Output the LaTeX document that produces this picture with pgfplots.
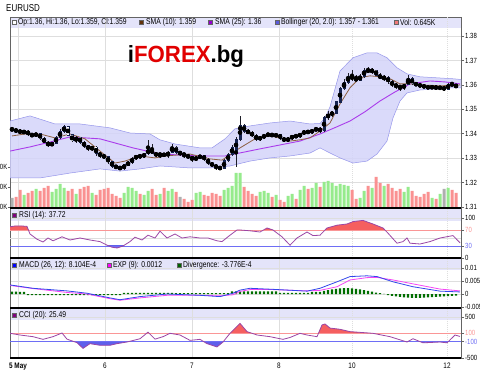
\documentclass[border=0pt]{standalone}
\usepackage{pgfplots}
\pgfplotsset{compat=1.18}
\usepackage{pgfplotstable}
\usepackage{fontspec}
\setmainfont{Liberation Sans}[FakeStretch=0.8]
\newfontfamily\logofont{Liberation Sans}[FakeStretch=0.95]
\definecolor{bandfill}{RGB}{212,212,250}
\definecolor{bandline}{RGB}{150,150,235}
\definecolor{smaten}{RGB}{140,95,65}
\definecolor{smatwf}{RGB}{170,60,235}
\definecolor{candleedge}{RGB}{22,35,80}
\definecolor{wick}{RGB}{30,30,40}
\definecolor{vgreen}{RGB}{150,235,140}
\definecolor{vred}{RGB}{250,145,145}
\definecolor{vgrey}{RGB}{175,175,175}
\definecolor{osc}{RGB}{155,70,165}
\definecolor{ofillr}{RGB}{245,95,95}
\definecolor{ofillb}{RGB}{95,95,235}
\definecolor{lvlr}{RGB}{250,150,150}
\definecolor{lvlb}{RGB}{110,110,245}
\definecolor{macdb}{RGB}{50,70,235}
\definecolor{macds}{RGB}{245,70,245}
\definecolor{divg}{RGB}{0,110,0}
\definecolor{strip}{RGB}{228,228,250}
\definecolor{gridc}{RGB}{222,222,222}
\definecolor{framec}{RGB}{100,100,100}
\definecolor{logored}{RGB}{225,0,0}

\pgfplotstableread{
x o h l c
12 1.3420 1.3428 1.3410 1.3415
16 1.3415 1.3420 1.3405 1.3412
20 1.3412 1.3418 1.3400 1.3405
24 1.3405 1.3415 1.3398 1.3410
28 1.3410 1.3414 1.3392 1.3398
32 1.3398 1.3402 1.3385 1.3392
36 1.3392 1.3405 1.3388 1.3400
40 1.3400 1.3404 1.3375 1.3380
44 1.3380 1.3385 1.3360 1.3365
48 1.3365 1.3370 1.3345 1.3352
52 1.3352 1.3368 1.3348 1.3362
56 1.3362 1.3390 1.3358 1.3385
60 1.3385 1.3418 1.3380 1.3410
64 1.3410 1.3435 1.3405 1.3428
68 1.3428 1.3432 1.3390 1.3395
72 1.3395 1.3398 1.3365 1.3372
76 1.3372 1.3390 1.3362 1.3385
80 1.3385 1.3388 1.3360 1.3365
84 1.3365 1.3370 1.3342 1.3350
88 1.3350 1.3355 1.3330 1.3338
92 1.3338 1.3350 1.3330 1.3345
96 1.3345 1.3348 1.3310 1.3320
100 1.3320 1.3325 1.3302 1.3310
104 1.3310 1.3318 1.3295 1.3305
108 1.3305 1.3308 1.3275 1.3285
112 1.3285 1.3290 1.3260 1.3268
116 1.3268 1.3272 1.3255 1.3262
120 1.3262 1.3268 1.3250 1.3258
124 1.3258 1.3278 1.3252 1.3272
128 1.3272 1.3288 1.3268 1.3282
132 1.3282 1.3305 1.3278 1.3298
136 1.3298 1.3315 1.3292 1.3310
140 1.3310 1.3318 1.3298 1.3305
144 1.3305 1.3322 1.3300 1.3318
148 1.3318 1.3375 1.3312 1.3335
152 1.3335 1.3358 1.3315 1.3320
156 1.3320 1.3325 1.3305 1.3312
160 1.3312 1.3322 1.3300 1.3318
164 1.3318 1.3322 1.3305 1.3310
168 1.3310 1.3330 1.3300 1.3325
172 1.3325 1.3360 1.3320 1.3345
176 1.3345 1.3348 1.3318 1.3325
180 1.3325 1.3330 1.3310 1.3318
184 1.3318 1.3322 1.3302 1.3312
188 1.3312 1.3318 1.3295 1.3305
192 1.3305 1.3310 1.3285 1.3295
196 1.3295 1.3308 1.3288 1.3302
200 1.3302 1.3315 1.3295 1.3310
204 1.3310 1.3314 1.3288 1.3295
208 1.3295 1.3300 1.3272 1.3280
212 1.3280 1.3285 1.3262 1.3270
216 1.3270 1.3275 1.3252 1.3262
220 1.3262 1.3268 1.3250 1.3258
224 1.3258 1.3295 1.3255 1.3290
228 1.3290 1.3320 1.3285 1.3315
232 1.3315 1.3352 1.3310 1.3345
236 1.3330 1.3385 1.3262 1.3378
240 1.3378 1.3473 1.3372 1.3432
244 1.3432 1.3440 1.3405 1.3410
248 1.3410 1.3418 1.3398 1.3405
252 1.3405 1.3412 1.3385 1.3392
256 1.3392 1.3398 1.3370 1.3378
260 1.3378 1.3392 1.3372 1.3385
264 1.3385 1.3400 1.3380 1.3393
268 1.3393 1.3405 1.3388 1.3398
272 1.3398 1.3402 1.3386 1.3392
276 1.3392 1.3402 1.3385 1.3396
280 1.3396 1.3400 1.3376 1.3382
284 1.3382 1.3386 1.3365 1.3372
288 1.3372 1.3385 1.3368 1.3380
292 1.3380 1.3396 1.3375 1.3392
296 1.3392 1.3398 1.3382 1.3388
300 1.3388 1.3405 1.3384 1.3400
304 1.3400 1.3415 1.3395 1.3410
308 1.3410 1.3416 1.3398 1.3405
312 1.3405 1.3420 1.3400 1.3415
316 1.3415 1.3428 1.3410 1.3420
320 1.3420 1.3426 1.3405 1.3412
324 1.3412 1.3472 1.3408 1.3465
328 1.3465 1.3492 1.3455 1.3480
332 1.3480 1.3495 1.3470 1.3485
336 1.3485 1.3535 1.3480 1.3530
340 1.3530 1.3592 1.3525 1.3585
344 1.3585 1.3625 1.3578 1.3610
348 1.3610 1.3650 1.3605 1.3635
352 1.3635 1.3660 1.3615 1.3625
356 1.3625 1.3642 1.3615 1.3620
360 1.3620 1.3645 1.3615 1.3635
364 1.3635 1.3668 1.3630 1.3660
368 1.3660 1.3672 1.3650 1.3655
372 1.3655 1.3670 1.3645 1.3660
376 1.3660 1.3662 1.3635 1.3640
380 1.3640 1.3648 1.3622 1.3628
384 1.3628 1.3640 1.3615 1.3630
388 1.3630 1.3636 1.3605 1.3612
392 1.3612 1.3618 1.3592 1.3600
396 1.3600 1.3606 1.3585 1.3595
400 1.3595 1.3600 1.3575 1.3588
404 1.3588 1.3605 1.3580 1.3600
408 1.3600 1.3640 1.3598 1.3625
412 1.3625 1.3632 1.3600 1.3605
416 1.3605 1.3612 1.3595 1.3600
420 1.3600 1.3606 1.3590 1.3596
424 1.3596 1.3602 1.3586 1.3592
428 1.3592 1.3598 1.3582 1.3588
432 1.3588 1.3598 1.3584 1.3592
436 1.3592 1.3598 1.3580 1.3586
440 1.3586 1.3596 1.3580 1.3590
444 1.3590 1.3595 1.3575 1.3582
448 1.3582 1.3608 1.3578 1.3603
452 1.3603 1.3612 1.3596 1.3600
456 1.3600 1.3605 1.3588 1.3590
}\candles

\pgfplotstableread{
x v
10 1.3329
30 1.3346
50 1.3366
70 1.3387
100 1.3379
133 1.3342
160 1.3317
200 1.3309
225 1.3309
260 1.3338
300 1.3370
320 1.3399
335 1.3425
350 1.3452
365 1.3490
380 1.3534
395 1.3571
410 1.3604
430 1.3616
445 1.3612
460 1.3604
}\smatwentyfive

\pgfplotstableread{
x v
12 1.3391
25 1.3399
40 1.3399
55 1.3383
70 1.3399
85 1.3379
100 1.3329
115 1.3280
125 1.3288
140 1.3309
155 1.3301
165 1.3309
190 1.3317
210 1.3297
222 1.3292
240 1.3342
255 1.3379
270 1.3391
280 1.3383
290 1.3370
300 1.3375
310 1.3383
320 1.3411
330 1.3444
340 1.3522
350 1.3588
360 1.3629
370 1.3637
380 1.3633
390 1.3625
400 1.3604
410 1.3604
420 1.3600
440 1.3596
460 1.3600
}\smaten

\pgfplotstableread{
x v
10 78
15 80
22 80
27 79
30 60
37 47
43 40
48 50
53 43
62 53
70 45
80 50
90 45
100 41
107 32
112 27
117 25
123 30
130 41
135 52
142 45
148 57
155 50
160 67
167 50
175 60
182 50
190 53
200 50
208 50
217 43
222 41
230 57
237 70
240 70
250 68
260 65
267 75
273 70
282 53
290 32
297 50
307 65
313 56
320 57
327 75
337 82
347 85
353 91
363 94
373 85
383 75
388 62
397 37
403 41
407 50
410 37
420 35
430 41
440 50
453 56
460 38
}\rsi

\pgfplotstableread{
x m s
10 0.0035 0.0033
33 0.0022 0.0021
67 0.0012 0.0006
87 0.0003 0.0000
110 -0.0015 -0.0018
120 -0.0022 -0.0024
140 -0.0010 -0.0015
167 0.0000 -0.0005
200 -0.0005 -0.0005
220 -0.0010 -0.0007
233 0.0003 -0.0003
240 0.0015 0.0010
250 0.0022 0.0017
273 0.0018 0.0017
307 0.0011 0.0012
320 0.0022 0.0014
337 0.0047 0.0028
350 0.0067 0.0054
367 0.0070 0.0063
377 0.0067 0.0064
393 0.0047 0.0054
413 0.0028 0.0039
440 0.0011 0.0019
460 0.0008 0.0012
}\macd

\pgfplotstableread{
x v
10 102
20 61
33 20
43 -45
53 20
62 110
67 -40
77 -126
83 -265
90 -150
100 -190
110 -190
117 -150
127 -110
140 -30
148 130
155 -40
163 20
170 102
180 61
190 -70
200 -45
207 -150
217 -230
223 -110
230 102
240 345
247 143
257 61
270 20
283 -45
290 0
300 102
307 61
317 20
322 305
325 330
330 230
340 200
350 143
373 102
390 20
407 -110
413 -30
423 -130
440 -110
447 -130
455 61
460 25
}\cci

\pgfplotsset{
  panel/.style={
    scale only axis, width=451bp, xmin=10, xmax=461,
    axis line style={framec, line width=0.6bp},
    tick align=outside, major tick length=3bp,
    ytick pos=right, yticklabel pos=right,
    ytick style={framec, line width=0.5bp},
    xtick style={draw=none},
    xtick={18,105,192,279}, extra x ticks={352,447},
    xmajorgrids, ymajorgrids,
    major grid style={gridc, line width=0.5bp},
    extra x tick style={major grid style={gridc, line width=0.5bp, dash pattern=on 1bp off 1bp}, xtick style={draw=none}},
    xticklabels={}, extra x tick labels={},
    scaled y ticks=false, scaled x ticks=false,
    ticklabel style={font=\fontsize{7.5}{8}\selectfont, text=black},
    yticklabel style={anchor=west, inner sep=1bp},
    /pgf/number format/assume math mode=true,
  }
}

\begin{document}
\begin{tikzpicture}
\path[use as bounding box, fill=white] (0bp,0bp) rectangle (480bp,370bp);
% strips
\fill[strip] (10bp,342bp) rectangle (461bp,353bp);
\fill[strip] (10bp,149bp) rectangle (461bp,162bp);
\fill[strip] (10bp,100bp) rectangle (461bp,112bp);
\fill[strip] (10bp,50bp) rectangle (461bp,62bp);

% main panel
\begin{axis}[panel, anchor=south west, at={(10bp,162bp)}, height=191bp, ymin=1.3096, ymax=1.38778,
  ytick={1.31,1.32,1.33,1.34,1.35,1.36,1.37,1.38},
  yticklabels={1.31,1.32,1.33,1.34,1.35,1.36,1.37,1.38}]
\addplot[fill=bandfill, fill opacity=0.85, draw=bandline, line width=0.5bp] coordinates {
(10,1.3452)(30,1.3473)(55,1.3440)(80,1.3440)(110,1.3424)(130,1.3403)(150,1.3399)(160,1.3375)(175,1.3358)(200,1.3342)(212,1.3342)(225,1.3379)(235,1.3420)(250,1.3432)(270,1.3444)(290,1.3452)(310,1.3440)(320,1.3442)(325,1.3465)(330,1.3510)(340,1.3657)(353,1.3711)(367,1.3731)(377,1.3731)(387,1.3711)(397,1.3670)(407,1.3645)(420,1.3633)(453,1.3625)(461,1.3622)
(461,1.3588)(453,1.3588)(420,1.3579)(407,1.3567)(400,1.3534)(393,1.3465)(387,1.3370)(377,1.3317)(367,1.3288)(353,1.3280)(340,1.3301)(330,1.3321)(320,1.3342)(310,1.3321)(290,1.3309)(270,1.3301)(250,1.3288)(230,1.3268)(210,1.3260)(190,1.3260)(160,1.3268)(140,1.3256)(120,1.3247)(100,1.3256)(70,1.3239)(40,1.3219)(10,1.3219)
} -- cycle;
\addplot[smatwf, line width=0.9bp] table[x=x,y=v]{\smatwentyfive};
\addplot[smaten, line width=0.8bp] table[x=x,y=v]{\smaten};
\addplot[only marks, mark=none,
  error bars/.cd, y dir=both, y explicit, error mark=none,
  error bar style={draw=wick, line width=0.6bp}]
  table[x=x, y expr={(\thisrow{h}+\thisrow{l})/2}, y error expr={(\thisrow{h}-\thisrow{l})/2}]{\candles};
\addplot[only marks, mark=none,
  error bars/.cd, y dir=both, y explicit, error mark=none,
  error bar style={draw=candleedge, line width=3bp}]
  table[x=x, y expr={(\thisrow{o}+\thisrow{c})/2}, y error expr={abs(\thisrow{c}-\thisrow{o})/2+0.00022}]{\candles};
\addplot[only marks, mark=none,
  error bars/.cd, y dir=both, y explicit, error mark=none,
  error bar style={draw=white, line width=1.8bp}]
  table[x=x, y expr={(\thisrow{o}+\thisrow{c})/2}, y error expr={max(\thisrow{o}-\thisrow{c},0)/2}]{\candles};
\end{axis}

% volume overlay
\begin{axis}[scale only axis, width=451bp, height=191bp, anchor=south west, at={(10bp,162bp)},
  xmin=10, xmax=461, ymin=0, ymax=191, axis x line=none, axis y line*=left,
  axis line style={draw=none}, tick align=outside, major tick length=2bp,
  ytick={1,21,41}, yticklabels={0K,0K,0K},
  ytick style={framec, line width=0.5bp},
  yticklabel style={font=\fontsize{7.5}{8}\selectfont, anchor=east, inner sep=0.5bp}]
\addplot[ybar, bar width=3, bar shift=0pt, fill=vgreen, draw=none] coordinates {
(24,13)(36,19)(52,16)(56,19)(60,24)(64,20)(76,14)(92,15)(124,15)(128,21)(132,20)(136,17)(144,13)(148,17)(160,14)(168,17)(172,19)(196,15)(200,16)(224,18)(228,20)(232,22)(236,35)(240,35)(260,16)(264,17)(268,15)(276,13)(288,12)(292,14)(300,18)(304,22)(312,20)(316,25)(324,26)(328,27)(332,25)(336,22)(340,24)(344,23)(348,22)(360,10)(364,17)(372,20)(384,22)(404,16)(408,21)(432,10)(440,14)(448,20)};
\addplot[ybar, bar width=3, bar shift=0pt, fill=vred, draw=none] coordinates {
(16,11)(20,18)(28,15)(32,17)(40,17)(44,20)(48,22)(68,17)(72,19)(80,19)(84,21)(88,22)(96,13)(100,18)(104,19)(108,20)(112,14)(116,12)(120,10)(140,14)(152,19)(156,13)(164,20)(176,16)(184,9)(188,6)(192,8)(204,13)(208,12)(212,15)(216,14)(220,12)(244,21)(248,17)(252,14)(256,12)(272,11)(280,8)(284,6)(296,9)(308,19)(320,21)(352,18)(356,9)(368,22)(376,31)(380,25)(388,24)(392,20)(396,17)(400,19)(412,17)(416,12)(420,11)(424,14)(428,16)(436,9)(452,18)(456,15)};
\addplot[ybar, bar width=3, bar shift=0pt, fill=vgrey, draw=none] coordinates {
(12,10)(180,11)(444,19)};
\end{axis}

% RSI
\begin{axis}[panel, anchor=south west, at={(10bp,112bp)}, height=50bp, ymin=0, ymax=125,
  ytick={0,30,70,100}, yticklabels={0,\textcolor{lvlb}{30},\textcolor{lvlr}{70},100}]
\addplot[gridc, line width=0.5bp] coordinates {(10,50) (461,50)};
\begin{scope}
\clip (axis cs:10,70) rectangle (axis cs:461,125);
\addplot[fill=ofillr, draw=none] table[x=x,y=v]{\rsi} -- (axis cs:460,0) -- (axis cs:10,0) -- cycle;
\end{scope}
\begin{scope}
\clip (axis cs:10,0) rectangle (axis cs:461,30);
\addplot[fill=ofillb, draw=none] table[x=x,y=v]{\rsi} -- (axis cs:460,125) -- (axis cs:10,125) -- cycle;
\end{scope}
\addplot[lvlr, line width=0.6bp] coordinates {(10,70) (461,70)};
\addplot[lvlb, line width=0.6bp] coordinates {(10,30) (461,30)};
\addplot[osc, line width=0.8bp] table[x=x,y=v]{\rsi};
\end{axis}

% MACD
\begin{axis}[panel, anchor=south west, at={(10bp,62bp)}, height=50bp, ymin=-0.00538, ymax=0.01385,
  ytick={-0.005,0,0.005,0.01}, yticklabels={-0.005,0,0.005,0.01}]
\addplot[ybar, bar width=2.4, bar shift=0pt, fill=divg, draw=none] coordinates {
(12,0.0009)(16,0.0009)(20,0.0008)(24,0.0008)
(28,-0.0004)(32,-0.0004)(36,-0.0004)(40,-0.0004)(44,-0.0004)(48,-0.0004)(52,-0.0004)(56,-0.0004)(60,-0.0004)(64,-0.0004)(68,-0.0004)(72,-0.0004)(76,-0.0004)(80,-0.0004)(84,-0.0004)(88,-0.0004)(92,-0.0004)(96,-0.0004)(100,-0.0004)(104,-0.0004)(108,-0.0004)(112,-0.0004)(116,-0.0004)(120,-0.0004)
(124,0.0004)(128,0.0004)(132,0.0004)(136,0.0004)(140,0.0004)(144,0.0004)(148,0.0004)(152,0.0004)(156,0.0004)(160,0.0004)(164,0.0004)(168,0.0004)(172,0.0004)
(176,0.0003)(180,0.0003)(184,0.0003)(188,0.0003)(192,0.0003)(196,0.0003)(200,0.0003)(204,0.0003)(208,0.0003)(212,0.0003)(216,0.0003)(220,0.0003)(224,0.0003)(228,0.0003)
(232,0.0010)(236,0.0010)(240,0.0010)(244,0.0010)(248,0.0010)(252,0.0010)(256,0.0010)(260,0.0010)(264,0.0010)(268,0.0010)(272,0.0010)(276,0.0010)
(280,0.0004)(284,0.0004)(288,0.0004)(292,0.0004)(296,0.0004)(300,0.0004)(304,0.0004)(308,0.0004)
(312,0.0008)(316,0.0008)(320,0.0008)
(324,0.0012)(328,0.0015)(332,0.0018)(336,0.0020)(340,0.0022)(344,0.0023)(348,0.0023)(352,0.0022)(356,0.0020)(360,0.0018)(364,0.0015)(368,0.0012)(372,0.0009)
(376,0.0005)(380,0.0003)(384,0.0001)
(388,-0.0004)(392,-0.0007)(396,-0.0009)(400,-0.0011)(404,-0.0013)(408,-0.0014)(412,-0.0015)(416,-0.0015)(420,-0.0015)(424,-0.0014)(428,-0.0013)(432,-0.0012)(436,-0.0011)(440,-0.0010)(444,-0.0009)(448,-0.0008)(452,-0.0007)(456,-0.0006)};
\addplot[macds, line width=0.8bp] table[x=x,y=s]{\macd};
\addplot[macdb, line width=0.8bp] table[x=x,y=m]{\macd};
\end{axis}

% CCI
\begin{axis}[panel, anchor=south west, at={(10bp,12bp)}, height=50bp, ymin=-500, ymax=719.5,
  ytick={-500,-100,100,500}, yticklabels={-500,\textcolor{lvlb}{-100},\textcolor{lvlr}{100},500},
  xticklabels={\textbf{5 May},6,7,8}, extra x tick labels={10,12},
  xticklabel style={font=\fontsize{8}{9}\selectfont, inner sep=1.5bp}]
\begin{scope}
\clip (axis cs:10,100) rectangle (axis cs:461,720);
\addplot[fill=ofillr, draw=none] table[x=x,y=v]{\cci} -- (axis cs:460,-500) -- (axis cs:10,-500) -- cycle;
\end{scope}
\begin{scope}
\clip (axis cs:10,-500) rectangle (axis cs:461,-100);
\addplot[fill=ofillb, draw=none] table[x=x,y=v]{\cci} -- (axis cs:460,720) -- (axis cs:10,720) -- cycle;
\end{scope}
\addplot[lvlr, line width=0.6bp] coordinates {(10,100) (461,100)};
\addplot[lvlb, line width=0.6bp] coordinates {(10,-100) (461,-100)};
\addplot[osc, line width=0.8bp] table[x=x,y=v]{\cci};
\end{axis}

% separators
\foreach \yy in {162,112,62,12} \draw[black, line width=1.5bp] (10bp,\yy bp) -- (461bp,\yy bp);

% texts
\node[anchor=west, inner sep=0, font=\fontsize{10}{11}\selectfont] at (6bp,362bp) {EURUSD};
\node[inner sep=0, font=\logofont\bfseries\fontsize{23.5}{24}\selectfont] at (186bp,313bp) {i\textcolor{logored}{FOREX}.bg};

\begin{scope}[font=\fontsize{8.5}{9}\selectfont, x=1bp, y=1bp]
\filldraw[fill=white, draw=framec, line width=0.5bp] (12.5,345.5) rectangle (16.5,349.5);
\node[anchor=west, inner sep=0] at (18,347.5) {Op:1.36, Hi:1.36, Lo:1.359, Cl:1.359};
\filldraw[fill={rgb,255:red,100;green,50;blue,10}, draw=framec, line width=0.5bp] (139,345.5) rectangle (143,349.5);
\node[anchor=west, inner sep=0] at (146,347.5) {SMA (10): 1.359};
\filldraw[fill={rgb,255:red,150;green,0;blue,210}, draw=framec, line width=0.5bp] (208,345.5) rectangle (212,349.5);
\node[anchor=west, inner sep=0] at (215,347.5) {SMA (25): 1.36};
\filldraw[fill={rgb,255:red,90;green,90;blue,220}, draw=framec, line width=0.5bp] (275,345.5) rectangle (279,349.5);
\node[anchor=west, inner sep=0] at (281,347.5) {Bollinger (20, 2.0): 1.357 - 1.361};
\filldraw[fill={rgb,255:red,240;green,120;blue,120}, draw=framec, line width=0.5bp] (394,345.5) rectangle (398,349.5);
\node[anchor=west, inner sep=0] at (400,347.5) {Vol: 0.645K};

\filldraw[fill={rgb,255:red,128;green,0;blue,128}, draw=framec, line width=0.5bp] (12.5,153) rectangle (16.5,157);
\node[anchor=west, inner sep=0] at (19,155) {RSI (14): 37.72};

\filldraw[fill={rgb,255:red,0;green,0;blue,255}, draw=framec, line width=0.5bp] (12.5,103) rectangle (16.5,107);
\node[anchor=west, inner sep=0] at (19,105) {MACD (26, 12): 8.104E-4};
\filldraw[fill={rgb,255:red,255;green,0;blue,255}, draw=framec, line width=0.5bp] (107,103) rectangle (111,107);
\node[anchor=west, inner sep=0] at (113,105) {EXP (9): 0.0012};
\filldraw[fill={rgb,255:red,0;green,100;blue,0}, draw=framec, line width=0.5bp] (177,103) rectangle (181,107);
\node[anchor=west, inner sep=0] at (183,105) {Divergence: -3.776E-4};

\filldraw[fill={rgb,255:red,128;green,0;blue,128}, draw=framec, line width=0.5bp] (12.5,53) rectangle (16.5,57);
\node[anchor=west, inner sep=0] at (19,55) {CCI (20): 25.49};
\end{scope}
\end{tikzpicture}
\end{document}
